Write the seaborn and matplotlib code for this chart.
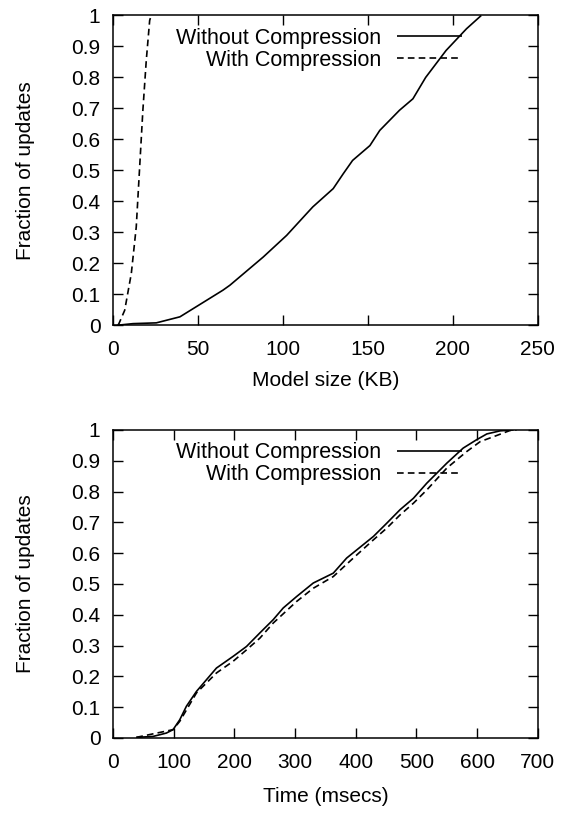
import numpy as np
import pandas as pd
import matplotlib
matplotlib.use("Agg")
import matplotlib.pyplot as plt
import seaborn as sns

# CDF of model update sizes (KB)
size_plain_x = [3, 11.8, 25.5, 39.4, 50, 64.7, 68.8, 88.4, 102.2, 113.9, 117.6, 129.6,
                135.5, 141, 151.2, 157, 168.6, 176.5, 184, 196, 208, 216.7]
size_plain_y = [0, 0.005, 0.0075, 0.027, 0.063, 0.113, 0.129, 0.22, 0.29, 0.36, 0.382,
                0.441, 0.489, 0.532, 0.58, 0.629, 0.694, 0.731, 0.80, 0.887, 0.957, 1.0]
size_comp_x = [2.9, 3.5, 6.9, 10.8, 13.7, 15.7, 17.6, 19.6, 21.6, 22.5]
size_comp_y = [0, 0.005, 0.048, 0.167, 0.317, 0.51, 0.694, 0.855, 0.984, 1.0]

# CDF of update latency (msecs)
time_plain_x = [38.5, 66, 88, 99, 110, 121, 137.5, 154, 170.5, 198, 220, 242, 264,
                280.5, 302.5, 330, 363, 385, 412, 429, 451, 473, 495, 517, 550, 577,
                599, 616, 638, 660]
time_plain_y = [0.002, 0.005, 0.016, 0.027, 0.059, 0.103, 0.151, 0.189, 0.227, 0.265,
                0.297, 0.341, 0.384, 0.422, 0.459, 0.503, 0.535, 0.584, 0.627, 0.654,
                0.697, 0.741, 0.778, 0.827, 0.892, 0.941, 0.968, 0.987, 0.997, 1.0]
time_comp_x = [38.5, 99, 110, 137.5, 170.5, 198, 220, 242, 264, 302.5, 330, 363, 396,
               429, 451, 473, 495, 517, 550, 583, 605, 627, 654, 665]
time_comp_y = [0.002, 0.027, 0.054, 0.146, 0.211, 0.249, 0.286, 0.324, 0.373, 0.443,
               0.486, 0.524, 0.584, 0.643, 0.681, 0.724, 0.762, 0.805, 0.876, 0.930,
               0.962, 0.978, 0.998, 1.0]

series_names = ["Without Compression", "With Compression"]
y_ticks = [0, 0.1, 0.2, 0.3, 0.4, 0.5, 0.6, 0.7, 0.8, 0.9, 1]
y_tick_labels = ["0", "0.1", "0.2", "0.3", "0.4", "0.5", "0.6", "0.7", "0.8", "0.9", "1"]
size_ticks = [0, 50, 100, 150, 200, 250]
time_ticks = [0, 100, 200, 300, 400, 500, 600, 700]

sns.set_theme(style="ticks")
plt.rcParams["font.family"] = ["Liberation Sans", "DejaVu Sans"]
plt.rcParams.update({
    "font.size": 15,
    "text.color": "black",
    "axes.labelcolor": "black",
    "axes.linewidth": 1.1,
    "axes.edgecolor": "black",
    "xtick.direction": "in",
    "ytick.direction": "in",
    "xtick.top": True,
    "ytick.right": True,
    "xtick.major.size": 7,
    "ytick.major.size": 7,
    "xtick.major.width": 1.0,
    "ytick.major.width": 1.0,
    "xtick.color": "black",
    "ytick.color": "black",
    "xtick.labelcolor": "black",
    "ytick.labelcolor": "black",
    "xtick.labelsize": 15,
    "ytick.labelsize": 15,
    "axes.labelsize": 15,
})


def build(xa, ya, xb, yb):
    return pd.concat([
        pd.DataFrame({"x": xa, "y": ya, "series": series_names[0]}),
        pd.DataFrame({"x": xb, "y": yb, "series": series_names[1]}),
    ], ignore_index=True)


fig = plt.figure(figsize=(5.62, 8.15), dpi=100)
ax1 = fig.add_axes([0.201, 0.601, 0.756, 0.380])
ax2 = fig.add_axes([0.201, 0.0945, 0.756, 0.378])

panels = [
    (ax1, build(size_plain_x, size_plain_y, size_comp_x, size_comp_y),
     (0, 250), size_ticks, "Model size (KB)", 8.5),
    (ax2, build(time_plain_x, time_plain_y, time_comp_x, time_comp_y),
     (0, 700), time_ticks, "Time (msecs)", 10.5),
]

for ax, df, xlim, xticks, xlabel, xlabelpad in panels:
    sns.lineplot(data=df, x="x", y="y", hue="series", style="series",
                 palette=["black", "black"], dashes=[(1, 0), (4, 2.5)],
                 linewidth=1.2, sort=False, estimator=None, ax=ax)
    ax.set_xlim(*xlim)
    ax.set_ylim(0, 1)
    ax.set_xticks(xticks)
    ax.set_xticklabels([str(t) for t in xticks])
    ax.set_yticks(y_ticks)
    ax.set_yticklabels(y_tick_labels)
    ax.set_xlabel(xlabel, labelpad=xlabelpad)
    ax.set_ylabel("Fraction of updates", labelpad=26)
    ax.tick_params(axis="x", which="both", pad=11)
    ax.tick_params(axis="y", which="both", pad=9)
    handles, labels = ax.get_legend_handles_labels()
    ax.legend(handles, labels, loc="upper right", bbox_to_anchor=(0.821, 0.96),
              frameon=False, markerfirst=False, handlelength=3.0,
              handletextpad=0.75, borderpad=0, borderaxespad=0,
              labelspacing=0.05, fontsize=15.5)

fig.savefig("out.png", dpi=100)
